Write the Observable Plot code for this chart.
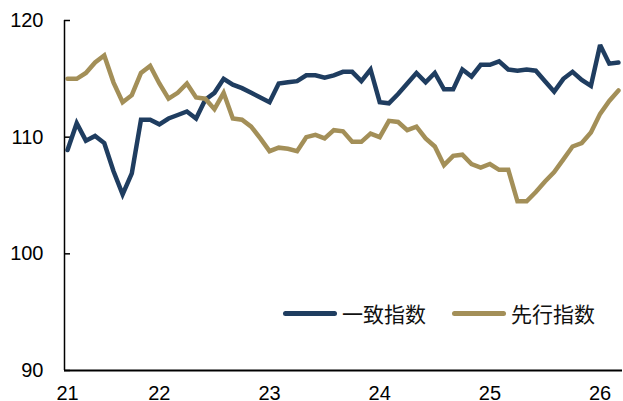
<!DOCTYPE html>
<html>
<head>
<meta charset="utf-8">
<script src="https://cdn.jsdelivr.net/npm/d3@7"></script>
<script src="https://cdn.jsdelivr.net/npm/@observablehq/plot@0.6"></script>
<style>
  html, body { margin: 0; padding: 0; background: #fff; }
  #wrap { position: relative; width: 623px; height: 401px; overflow: hidden; }
  .legend { position: absolute; top: 298px; left: 283px; display: flex; align-items: center;
            font-family: "Noto Sans CJK SC", sans-serif; font-size: 21px; color: #111; white-space: nowrap; }
  .sw { display: inline-block; width: 54px; height: 5px; border-radius: 3px; margin-right: 5px; }
  .item { display: flex; align-items: center; }
</style>
</head>
<body>
<div id="wrap"></div>
<script>
// Monthly index, Mar 2021 – Mar 2026 (index 0 = 2021-03)
const seriesNames = ["一致指数", "先行指数"];
const coincident = [
  108.9, 111.2, 109.7, 110.1, 109.5, 107.1, 105.1, 106.9, 111.5, 111.5,
  111.1, 111.6, 111.9, 112.2, 111.6, 113.2, 113.8, 115.0, 114.5, 114.2,
  113.8, 113.4, 113.0, 114.6, 114.7, 114.8, 115.3, 115.3, 115.1, 115.3,
  115.6, 115.6, 114.8, 115.8, 113.0, 112.9, 113.7, 114.6, 115.5, 114.7,
  115.5, 114.1, 114.1, 115.8, 115.2, 116.2, 116.2, 116.5, 115.8, 115.7,
  115.8, 115.7, 114.8, 113.9, 115.0, 115.6, 114.9, 114.4, 117.9, 116.3, 116.4
];
const leading = [
  115.0, 115.0, 115.5, 116.4, 117.0, 114.7, 113.0, 113.6, 115.5, 116.1,
  114.6, 113.3, 113.8, 114.6, 113.4, 113.3, 112.4, 113.8, 111.6, 111.5,
  110.9, 109.9, 108.8, 109.1, 109.0, 108.8, 110.0, 110.2, 109.9, 110.6,
  110.5, 109.6, 109.6, 110.3, 110.0, 111.4, 111.3, 110.6, 110.9, 109.9,
  109.2, 107.6, 108.4, 108.5, 107.7, 107.4, 107.7, 107.2, 107.2, 104.5,
  104.5, 105.3, 106.2, 107.0, 108.1, 109.2, 109.5, 110.4, 112.0, 113.1, 114.0
];
const xTickPos = [0, 10, 22, 34, 46, 58];
const xTickLabels = ["21", "22", "23", "24", "25", "26"];
const yTicks = [90, 100, 110, 120];
const colors = ["#1f3d60", "#a38f58"];

const data = [];
coincident.forEach((v, i) => data.push({i, v, s: seriesNames[0]}));
leading.forEach((v, i) => data.push({i, v, s: seriesNames[1]}));

const chart = Plot.plot({
  width: 623,
  height: 401,
  marginLeft: 64,
  marginRight: 1,
  marginTop: 20,
  marginBottom: 31,
  style: {fontFamily: "'Liberation Sans', Arial, sans-serif", fontSize: "20px", color: "#000", background: "#fff"},
  x: {type: "linear", domain: [-0.33, 60.44]},
  y: {domain: [90, 120]},
  color: {domain: seriesNames, range: colors},
  marks: [
    Plot.axisY(yTicks, {tickSize: 0, tickPadding: 21, fontSize: 20, stroke: null, fill: "#000", label: null}),
    Plot.axisY(yTicks, {tickSize: 6, text: null, dx: 6, strokeWidth: 1.5, stroke: "#000", label: null}),
    Plot.axisX(xTickPos, {tickSize: 0, tickPadding: 15, fontSize: 20, fill: "#000", label: null,
      tickFormat: d => xTickLabels[xTickPos.indexOf(d)]}),
    Plot.lineY(data, {x: "i", y: "v", stroke: "s", strokeWidth: 4.5, strokeLinejoin: "miter", strokeMiterlimit: 3}),
    Plot.ruleX([-0.33], {stroke: "#000", strokeWidth: 1.5}),
    Plot.ruleY([90], {stroke: "#000", strokeWidth: 2})
  ]
});

const wrap = document.getElementById("wrap");
wrap.appendChild(chart);

const legend = document.createElement("div");
legend.className = "legend";
seriesNames.forEach((name, k) => {
  const item = document.createElement("div");
  item.className = "item";
  if (k > 0) item.style.marginLeft = "26px";
  const sw = document.createElement("span");
  sw.className = "sw";
  sw.style.background = colors[k];
  const t = document.createElement("span");
  t.textContent = name;
  item.appendChild(sw);
  item.appendChild(t);
  legend.appendChild(item);
});
wrap.appendChild(legend);
</script>
</body>
</html>
